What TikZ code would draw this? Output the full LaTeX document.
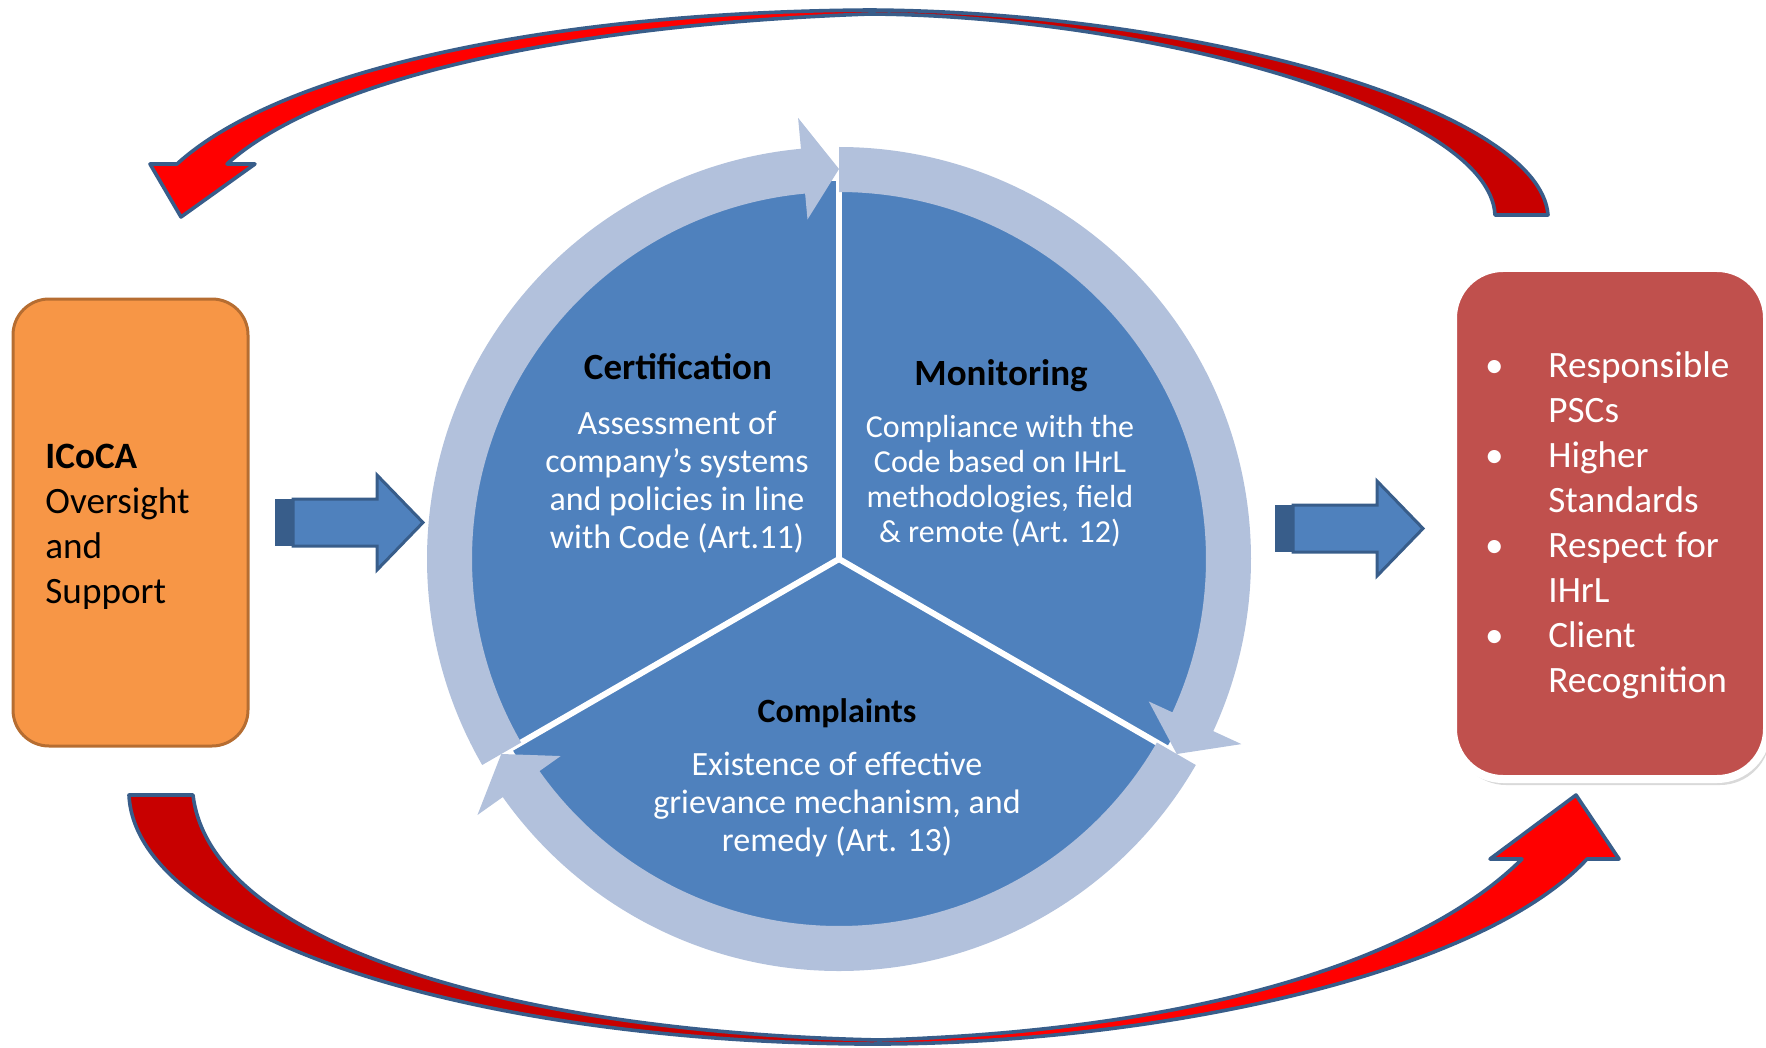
\documentclass[tikz,border=0pt]{standalone}
\usepackage{fontspec}
\setmainfont{Carlito}
\usetikzlibrary{shadows}
\definecolor{pieblue}{HTML}{4F81BD}
\definecolor{bordblue}{HTML}{385D8A}
\definecolor{ringblue}{RGB}{178,193,220}
\definecolor{boxorange}{HTML}{F79646}
\definecolor{lineorange}{HTML}{B66D31}
\definecolor{boxred}{HTML}{C0504D}
\definecolor{brightred}{HTML}{FF0000}
\definecolor{deepred}{HTML}{C80000}
\pgfdeclarehorizontalshading{redsplit}{100bp}{color(0bp)=(brightred); color(48bp)=(brightred); color(52bp)=(deepred); color(100bp)=(deepred)}
\newcommand{\boxfont}{\fontsize{18.6}{22.5}\selectfont}
\newcommand{\piefont}{\fontsize{17}{19}\selectfont}
\newcommand{\monfont}{\fontsize{16}{17.5}\selectfont}
\newcommand{\headfont}{\fontsize{18.5}{22}\selectfont\bfseries}

\begin{document}
\begin{tikzpicture}[x=0.5pt, y=-0.5pt,
  ringarrow/.style={fill=ringblue},
  blockarrow/.style={fill=pieblue, draw=bordblue, line width=1.5pt, line join=miter},
  curvedarrow/.style={draw=bordblue, line width=1.8pt, line join=round, shade, shading=redsplit},
  piehead/.style={font=\headfont, anchor=base, inner sep=0},
  pietext/.style={font=\piefont, text=white, anchor=base, inner sep=0}]
\useasboundingbox (0,0) rectangle (1766,1048);

\coordinate (c) at (839,559);
\fill[pieblue] (c) circle[radius=378];
\foreach \a in {270,30,150}{
	\draw[white, line width=3pt] (c) -- ++(\a:380);
}
\begin{scope}[shift={(c)}]
\foreach \s in {150,270,390}{
	\pgfmathsetmacro{\t}{\s+120}
	\pgfmathsetmacro{\b}{\s+114.7}
	\fill[ringarrow] (\s:412) arc[start angle=\s, end angle=\b, radius=412] -- (\b:443) -- (\t:390) -- (\b:341) -- (\b:367) arc[start angle=\b, end angle=\s, radius=367] -- cycle;
}
\end{scope}

\node[piehead] (certHead) at (678,379) {Certification};
\node[pietext] (certText) at (677,434) {\begin{tabular}[t]{@{}c@{}}Assessment of\\ company’s systems\\ and policies in line\\ with Code (Art.11)\end{tabular}};
\node[piehead] (monHead) at (1001,385) {Monitoring};
\node[pietext, font=\monfont] (monText) at (1000,437) {\begin{tabular}[t]{@{}c@{}}Compliance with the\\ Code based on IHrL\\ methodologies, field\\ \& remote (Art. 12)\end{tabular}};
\node[piehead, font=\fontsize{17}{20}\selectfont\bfseries] (compHead) at (837,722) {Complaints};
\node[pietext] (compText) at (837,775) {\begin{tabular}[t]{@{}c@{}}Existence of effective\\ grievance mechanism, and\\ remedy (Art. 13)\end{tabular}};

\node[draw=lineorange, line width=1.5pt, fill=boxorange, rounded corners=18pt, minimum width=117.5pt, minimum height=223.5pt, inner sep=0] (icoca) at (130.5,522.5) {};
\node[font=\boxfont, anchor=base west, inner sep=0] (icocaText) at (45,468) {\begin{tabular}[t]{@{}l@{}}\textbf{ICoCA}\\ Oversight\\ and\\ Support\end{tabular}};

\node[draw=white, line width=4pt, fill=boxred, rounded corners=25pt, minimum width=157pt, minimum height=255.5pt, inner sep=0, drop shadow={shadow xshift=1.5pt, shadow yshift=-3pt, opacity=0.3}] (outcomes) at (1610,523.5) {};
\node[font=\boxfont, text=white, anchor=base west, inner sep=0] (outText) at (1494,377) {\begin{tabular}[t]{@{}c@{\hspace{27pt}}l@{}}
\makebox[0pt]{\textbullet} & Responsible\\ & PSCs\\
\makebox[0pt]{\textbullet} & Higher\\ & Standards\\
\makebox[0pt]{\textbullet} & Respect for\\ & IHrL\\
\makebox[0pt]{\textbullet} & Client\\ & Recognition\end{tabular}};

\fill[bordblue] (275,499) rectangle (293,546);
\draw[blockarrow] (293,499) -- (377,499) -- (377,475) -- (423,522.5) -- (377,570) -- (377,546) -- (293,546) -- cycle;
\fill[bordblue] (1275,505) rectangle (1293,552);
\draw[blockarrow] (1293,505) -- (1377,505) -- (1377,481) -- (1423,528.5) -- (1377,576) -- (1377,552) -- (1293,552) -- cycle;

\draw[curvedarrow] (1495,215) -- (1548,215) .. controls (1540,110) and (1200,12) .. (870,10) .. controls (550,12) and (280,70) .. (177,164) -- (150,164) -- (181,217) -- (255,164) -- (227,164) .. controls (320,80) and (560,25) .. (870,14) .. controls (1150,16) and (1490,110) .. (1495,215) -- cycle;
\draw[curvedarrow, shading angle=180] (129,795) -- (193,795) .. controls (210,940) and (500,1032) .. (880,1040) .. controls (1200,1030) and (1420,960) .. (1522,859) -- (1490,859) -- (1576,795) -- (1619,859) -- (1587,859) .. controls (1480,975) and (1150,1046) .. (860,1044) .. controls (450,1040) and (135,930) .. (129,795) -- cycle;
\end{tikzpicture}
\end{document}
